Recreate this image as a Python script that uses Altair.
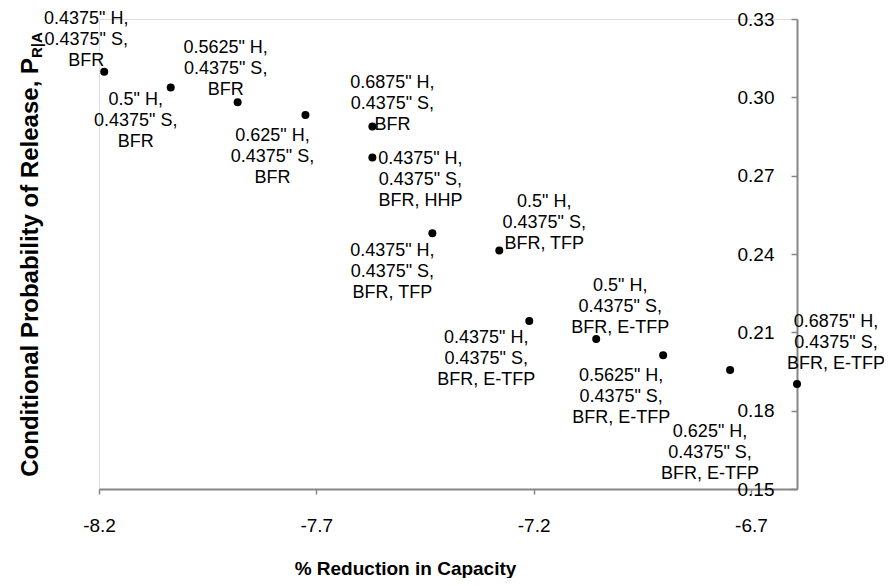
import altair as alt
import pandas as pd

# ---- data ----
reduction = [-8.188, -8.035, -7.881, -7.725, -7.571, -7.571, -7.433,
             -7.279, -7.210, -7.056, -6.902, -6.748, -6.594]
prob = [0.3098, 0.3038, 0.2981, 0.2932, 0.2888, 0.2770, 0.2479,
        0.2413, 0.2143, 0.2074, 0.2012, 0.1956, 0.1902]
hole = ["0.4375", "0.5", "0.5625", "0.625", "0.6875", "0.4375", "0.4375",
        "0.5", "0.4375", "0.5", "0.5625", "0.625", "0.6875"]
spacing = ["0.4375"] * 13
config = ["BFR", "BFR", "BFR", "BFR", "BFR", "BFR, HHP", "BFR, TFP",
          "BFR, TFP", "BFR, E-TFP", "BFR, E-TFP", "BFR, E-TFP", "BFR, E-TFP",
          "BFR, E-TFP"]
x_ticks = [-8.2, -7.7, -7.2, -6.7]
y_ticks = [0.15, 0.18, 0.21, 0.24, 0.27, 0.30, 0.33]

# label placement (pixel offsets of each label's first line from its point)
label_offsets = [(-18, -53), (-35, 13), (-12, -54), (-33, 21), (20, -44),
                 (48, 2), (-40, 18), (45, -49), (-43, 17), (24, -53),
                 (-42, 21), (-20, 62), (39, -62)]

df = pd.DataFrame({
    "idx": list(range(len(reduction))),
    "reduction": reduction,
    "prob": prob,
    "label": [f'{h}" H,\n{s}" S,\n{c}' for h, s, c in zip(hole, spacing, config)],
})

W, H = 698, 470
FONT = "Liberation Sans"
AXIS_GREY = "#868686"

x_enc = alt.X("reduction:Q",
              scale=alt.Scale(domain=[-8.2, -6.594], nice=False, zero=False),
              axis=alt.Axis(values=x_ticks, format=".1f", grid=False,
                            labelExpr="replace(datum.label, '\u2212', '-')",
                            domainColor=AXIS_GREY, domainWidth=2,
                            tickColor=AXIS_GREY, tickWidth=1.5, tickSize=5,
                            labelFont=FONT, labelFontSize=19, labelColor="black",
                            labelPadding=22, labelFlush=False,
                            title="% Reduction in Capacity",
                            titleFont=FONT, titleFontSize=19, titleFontWeight="bold",
                            titleColor="black", titleX=306, titleY=79,
                            titleBaseline="middle", titleAlign="center"))
y_enc = alt.Y("prob:Q",
              scale=alt.Scale(domain=[0.15, 0.33], nice=False, zero=False),
              axis=alt.Axis(orient="left", offset=-W, values=y_ticks, format=".2f",
                            grid=False, domainColor=AXIS_GREY, domainWidth=2,
                            tickColor=AXIS_GREY, tickWidth=1.5, tickSize=6,
                            labelFont=FONT, labelFontSize=19, labelColor="black",
                            labelPadding=17, labelFlush=False, title=None))

base = alt.Chart(df)
points = base.mark_point(filled=True, color="black", size=64, opacity=1).encode(
    x=x_enc, y=y_enc)

labels = []
for i, (dx, dy) in enumerate(label_offsets):
    labels.append(
        base.transform_filter(alt.datum.idx == i).mark_text(
            font=FONT, fontSize=18, lineHeight=21, lineBreak="\n",
            align="center", baseline="middle", dx=dx, dy=dy, color="black"
        ).encode(x=alt.X("reduction:Q"), y=alt.Y("prob:Q"), text="label:N"))

title_src = alt.Chart(pd.DataFrame({"t": [0]}))
ytitle = title_src.mark_text(font=FONT, fontSize=24, fontWeight="bold",
                             angle=270, align="right", baseline="alphabetic",
                             color="black").encode(
    x=alt.value(-61), y=alt.value(39),
    text=alt.value("Conditional Probability of Release, P"))
ysub = title_src.mark_text(font=FONT, fontSize=15, fontWeight="bold",
                           angle=270, align="left", baseline="alphabetic",
                           color="black").encode(
    x=alt.value(-57), y=alt.value(39), text=alt.value("R|A"))

chart = alt.layer(points, *labels, ytitle, ysub).properties(
    width=W, height=H,
    autosize=alt.AutoSizeParams(type="none"),
    padding={"left": 91, "top": 11, "right": 87, "bottom": 89},
).configure_view(stroke=None).configure(background="white")

chart.save("out.html", embed_options={"renderer": "svg", "actions": False})
